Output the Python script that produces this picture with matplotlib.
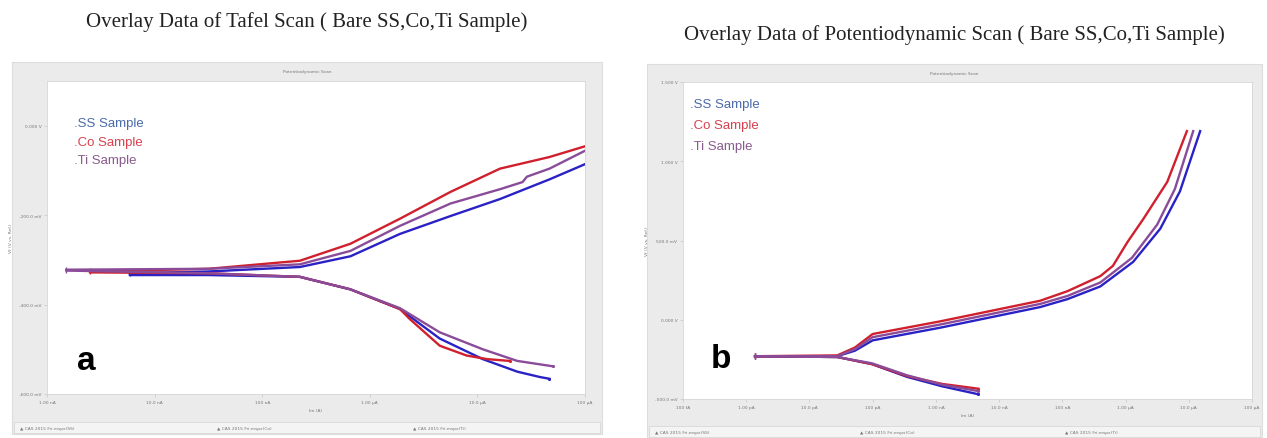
import numpy as np
import matplotlib.pyplot as plt
from matplotlib.patches import Rectangle

W, H = 1267, 439

# ---- data: panel a (Tafel scan), x = log-current tick index, y = potential tick index
tafel_xticks = ["1.00 nA", "10.0 nA", "100 nA", "1.00 µA", "10.0 µA", "100 µA"]
tafel_yticks = ["-600.0 mV", "-400.0 mV", "-200.0 mV", "0.000 V"]

tafel_ss_anodic_x = [0.77, 1.5, 2.35, 2.82, 3.28, 3.75, 4.21, 4.67, 5.0]
tafel_ss_anodic_y = [1.35, 1.37, 1.42, 1.54, 1.79, 1.99, 2.18, 2.40, 2.57]
tafel_co_anodic_x = [0.40, 1.5, 2.35, 2.82, 3.28, 3.75, 4.21, 4.67, 5.0]
tafel_co_anodic_y = [1.37, 1.40, 1.49, 1.68, 1.96, 2.26, 2.52, 2.65, 2.77]
tafel_ti_anodic_x = [0.18, 1.5, 2.35, 2.82, 3.28, 3.75, 4.21, 4.42, 4.46, 4.67, 5.0]
tafel_ti_anodic_y = [1.39, 1.40, 1.45, 1.60, 1.88, 2.13, 2.29, 2.37, 2.43, 2.52, 2.72]

tafel_ss_cathodic_x = [0.77, 1.5, 2.35, 2.82, 3.28, 3.65, 4.05, 4.37, 4.58, 4.67]
tafel_ss_cathodic_y = [1.33, 1.33, 1.31, 1.17, 0.95, 0.62, 0.39, 0.25, 0.19, 0.17]
tafel_co_cathodic_x = [0.40, 1.5, 2.35, 2.82, 3.28, 3.37, 3.65, 3.90, 4.09, 4.30]
tafel_co_cathodic_y = [1.36, 1.35, 1.31, 1.17, 0.95, 0.84, 0.54, 0.43, 0.39, 0.37]
tafel_ti_cathodic_x = [0.18, 1.5, 2.35, 2.82, 3.28, 3.65, 4.05, 4.37, 4.70]
tafel_ti_cathodic_y = [1.38, 1.35, 1.31, 1.17, 0.96, 0.69, 0.50, 0.37, 0.31]

# ---- data: panel b (potentiodynamic scan)
pd_xticks = ["100 fA", "1.00 pA", "10.0 pA", "100 pA", "1.00 nA", "10.0 nA",
             "100 nA", "1.00 µA", "10.0 µA", "100 µA"]
pd_yticks = ["-500.0 mV", "0.000 V", "500.0 mV", "1.000 V", "1.500 V"]

pd_ss_anodic_x = [1.14, 2.44, 2.72, 3.0, 4.07, 5.65, 6.08, 6.60, 7.12, 7.55, 7.86, 8.18]
pd_ss_anodic_y = [0.54, 0.54, 0.61, 0.74, 0.90, 1.16, 1.26, 1.42, 1.73, 2.15, 2.62, 3.38]
pd_co_anodic_x = [1.14, 2.44, 2.72, 3.0, 4.07, 5.65, 6.08, 6.60, 6.80, 7.03, 7.28, 7.66, 7.97]
pd_co_anodic_y = [0.54, 0.55, 0.65, 0.82, 0.98, 1.24, 1.36, 1.55, 1.68, 1.98, 2.27, 2.74, 3.38]
pd_ti_anodic_x = [1.14, 2.44, 2.72, 3.0, 4.07, 5.65, 6.08, 6.60, 7.10, 7.50, 7.78, 8.07]
pd_ti_anodic_y = [0.54, 0.54, 0.63, 0.78, 0.94, 1.20, 1.30, 1.47, 1.78, 2.20, 2.65, 3.38]

pd_ss_cathodic_x = [1.14, 2.44, 2.99, 3.54, 4.10, 4.67]
pd_ss_cathodic_y = [0.54, 0.53, 0.44, 0.28, 0.16, 0.06]
pd_co_cathodic_x = [1.14, 2.44, 2.99, 3.54, 4.10, 4.67]
pd_co_cathodic_y = [0.54, 0.53, 0.44, 0.29, 0.19, 0.13]
pd_ti_cathodic_x = [1.14, 2.44, 2.99, 3.54, 4.10, 4.67]
pd_ti_cathodic_y = [0.54, 0.53, 0.45, 0.30, 0.18, 0.10]

labels = [".SS Sample", ".Co Sample", ".Ti Sample"]
line_colors = ["#2a22c4", "#d0202e", "#8a4c98"]
text_colors = ["#4a6aaa", "#d8404e", "#8a5a8e"]
footer = ["CAS 2015 Fri.mspx(SS)", "CAS 2015 Fri.mspx(Co)", "CAS 2015 Fri.mspx(Ti)"]


def px(x0, y0, x1, y1):
    # pixel box -> figure fraction rect
    return [x0 / W, 1 - y1 / H, (x1 - x0) / W, (y1 - y0) / H]


fig = plt.figure(figsize=(W / 100, H / 100), dpi=100)
fig.patch.set_facecolor("white")


def panel(frame, plot, title, title_y, inner_title, xticks, yticks, ymax,
          series, letter, letter_xy, leg_xy, leg_step):
    fx0, fy0, fx1, fy1 = frame
    fig.patches.append(Rectangle((fx0 / W, 1 - fy1 / H), (fx1 - fx0) / W, (fy1 - fy0) / H,
                                 transform=fig.transFigure, facecolor="#ebebeb",
                                 edgecolor="#dddddd", lw=0.8, zorder=-5))
    # footer legend strip
    fig.patches.append(Rectangle(((fx0 + 2) / W, 1 - (fy1 - 1) / H), (fx1 - fx0 - 4) / W, 11 / H,
                                 transform=fig.transFigure, facecolor="#f4f4f4",
                                 edgecolor="#d8d8d8", lw=0.6, zorder=-4))
    for i, t in enumerate(footer):
        fig.text((fx0 + 8 + i * (fx1 - fx0) / 3) / W, 1 - (fy1 - 6) / H, "▲ " + t,
                 fontsize=3.2, color="#777777", va="center")
    fig.text((fx0 + fx1) / 2 / W, 1 - (fy0 + 9) / H, inner_title, fontsize=3.2,
             color="#777777", ha="center", va="center")
    fig.text((fx0 + fx1) / 2 / W, 1 - title_y / H, title, fontsize=15,
             family="Liberation Serif", ha="center", va="center", color="#222222")

    ax = fig.add_axes(px(*plot))
    ax.set_zorder(3)
    ax.set_facecolor("white")
    for s in ax.spines.values():
        s.set_color("#d6d6d6")
        s.set_linewidth(0.6)
    for (xa, ya, xc, yc), c in zip(series, line_colors):
        ax.plot(xa, ya, color=c, lw=1.7)
        ax.plot(xc, yc, color=c, lw=1.7)
        ax.plot(xa[:1], ya[:1], "|", color=c, ms=4)
        ax.plot(xc[-1:], yc[-1:], ".", color=c, ms=2.5)
    ax.set_xlim(0, len(xticks) - 1)
    ax.set_ylim(0, ymax)
    ax.set_xticks(range(len(xticks)))
    ax.set_xticklabels(xticks, fontsize=3.2, color="#777777")
    ax.set_yticks(range(len(yticks)))
    ax.set_yticklabels(yticks, fontsize=3.2, color="#777777")
    ax.tick_params(length=2, width=0.4, color="#bbbbbb", pad=2)
    ax.set_xlabel("Im (A)", fontsize=3.2, color="#777777", labelpad=3)
    ax.set_ylabel("Vf (V vs. Ref.)", fontsize=3.2, color="#777777", labelpad=4)
    for i, (lab, tc) in enumerate(zip(labels, text_colors)):
        ax.text(leg_xy[0], leg_xy[1] - i * leg_step, lab, transform=ax.transAxes,
                color=tc, fontsize=9.5, family="Liberation Sans", va="center")
    ax.text((letter_xy[0] - plot[0]) / (plot[2] - plot[0]),
            1 - (letter_xy[1] - plot[1]) / (plot[3] - plot[1]), letter,
            transform=ax.transAxes, fontsize=24, fontweight="bold",
            family="Liberation Sans", ha="center", va="center")
    return ax


tafel_series = [
    (tafel_ss_anodic_x, tafel_ss_anodic_y, tafel_ss_cathodic_x, tafel_ss_cathodic_y),
    (tafel_co_anodic_x, tafel_co_anodic_y, tafel_co_cathodic_x, tafel_co_cathodic_y),
    (tafel_ti_anodic_x, tafel_ti_anodic_y, tafel_ti_cathodic_x, tafel_ti_cathodic_y),
]
pd_series = [
    (pd_ss_anodic_x, pd_ss_anodic_y, pd_ss_cathodic_x, pd_ss_cathodic_y),
    (pd_co_anodic_x, pd_co_anodic_y, pd_co_cathodic_x, pd_co_cathodic_y),
    (pd_ti_anodic_x, pd_ti_anodic_y, pd_ti_cathodic_x, pd_ti_cathodic_y),
]

panel((12, 63, 602, 435), (47, 82, 585, 395),
      "Overlay Data of Tafel Scan ( Bare SS,Co,Ti Sample)", 22,
      "Potentiodynamic Scan", tafel_xticks, tafel_yticks, 3.5,
      tafel_series, "a", (86, 362), (0.05, 0.865), 0.059)

panel((647, 65, 1262, 439), (683, 83, 1252, 400),
      "Overlay Data of Potentiodynamic Scan ( Bare SS,Co,Ti Sample)", 35,
      "Potentiodynamic Scan", pd_xticks, pd_yticks, 4.0,
      pd_series, "b", (721, 360), (0.012, 0.93), 0.066)

fig.savefig("out.png", dpi=100)
